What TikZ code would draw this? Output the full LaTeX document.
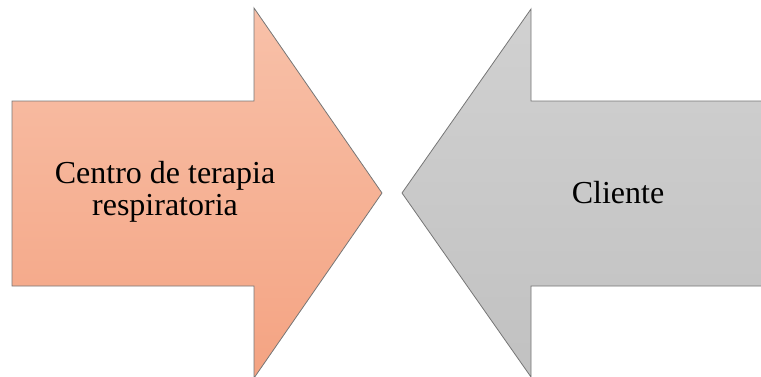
\documentclass[tikz,border=0pt]{standalone}
\usepackage{fontspec}
\setmainfont{Liberation Serif}
\definecolor{salmontop}{HTML}{F8C1A9}
\definecolor{salmonbot}{HTML}{F4A382}
\definecolor{graytop}{HTML}{D1D1D1}
\definecolor{graybot}{HTML}{C1C1C1}
\definecolor{edgegray}{HTML}{767676}
\begin{document}
\begin{tikzpicture}[x=1pt,y=-1pt,
  arrowshape/.style={draw=edgegray, line width=0.8pt, line join=miter},
  lbl/.style={font=\fontsize{32}{32}\selectfont, align=center, inner sep=0pt}]
\useasboundingbox (0,0) rectangle (761,376);
\shade[arrowshape, top color=salmontop, bottom color=salmonbot]
  (12,101) -- (254,101) -- (254,8) -- (382,193) -- (254,378) -- (254,286) -- (12,286) -- cycle;
\shade[arrowshape, top color=graytop, bottom color=graybot]
  (765,101) -- (531,101) -- (531,9) -- (402,193) -- (531,377) -- (531,286) -- (765,286) -- cycle;
\node[lbl] (left) at (165,192) {Centro de terapia\\respiratoria};
\node[lbl] (right) at (618,193) {Cliente};
\end{tikzpicture}
\end{document}
